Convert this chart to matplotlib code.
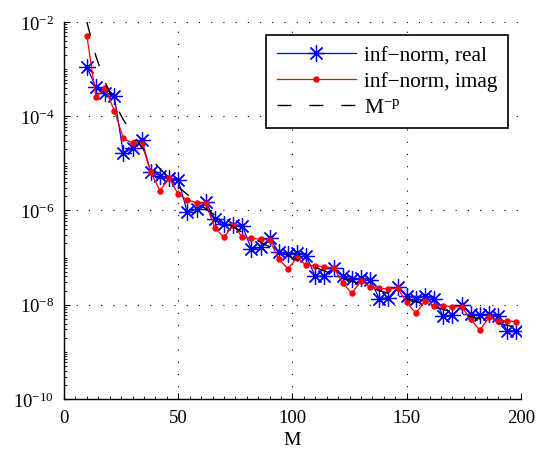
import numpy as np
import matplotlib
matplotlib.use("Agg")
import matplotlib.pyplot as plt
from matplotlib.ticker import FixedLocator, LogLocator, LogFormatterSciNotation, MultipleLocator, NullFormatter

plt.rcParams['font.family'] = ['Liberation Serif', 'DejaVu Serif']
plt.rcParams['mathtext.fontset'] = 'custom'
plt.rcParams['mathtext.rm'] = 'Liberation Serif'
plt.rcParams['mathtext.it'] = 'Liberation Serif:italic'

# ---- data ----
M = [10, 14, 18, 22, 26, 30, 34, 38, 42, 46, 50, 54, 58, 62, 66, 70, 74, 78, 82, 86,
     90, 94, 98, 102, 106, 110, 114, 118, 122, 126, 130, 134, 138, 142, 146, 150,
     154, 158, 162, 166, 170, 174, 178, 182, 186, 190, 194, 198]

real_log10 = [-2.95, -3.39, -3.51, -3.58, -4.79, -4.68, -4.50, -5.19, -5.26, -5.32,
              -5.35, -6.04, -5.97, -5.82, -6.18, -6.29, -6.30, -6.32, -6.82, -6.78,
              -6.59, -6.88, -6.93, -6.90, -6.97, -7.40, -7.39, -7.21, -7.40, -7.46,
              -7.44, -7.47, -7.87, -7.85, -7.63, -7.81, -7.87, -7.82, -7.88, -8.24,
              -8.22, -8.01, -8.20, -8.22, -8.20, -8.24, -8.55, -8.55]

imag_log10 = [-2.29, -3.59, -3.41, -3.88, -4.47, -4.57, -4.58, -5.19, -5.58, -5.31,
              -5.66, -5.77, -5.84, -5.84, -6.37, -6.57, -6.30, -6.57, -6.59, -6.61,
              -6.62, -7.03, -7.24, -7.00, -7.16, -7.17, -7.20, -7.21, -7.54, -7.76,
              -7.49, -7.63, -7.65, -7.67, -7.65, -7.95, -8.18, -7.92, -8.02, -8.02,
              -8.04, -8.04, -8.31, -8.54, -8.27, -8.34, -8.34, -8.36]

p = 5
C = 1e3

labels = ['inf\u2212norm, real', 'inf\u2212norm, imag', r'M$^{\mathrm{-p}}$']
x_ticks = [0, 50, 100, 150, 200]
y_ticks = [1e-10, 1e-8, 1e-6, 1e-4, 1e-2]

M_arr = np.array(M, dtype=float)
real_vals = 10.0 ** np.array(real_log10)
imag_vals = 10.0 ** np.array(imag_log10)
ref_vals = C * M_arr ** (-p)

fig = plt.figure(figsize=(5.36, 4.56), dpi=100)
ax = fig.add_axes([0.1194, 0.1228, 0.8526, 0.8268])

ax.semilogy(M_arr, real_vals, color='blue', lw=0.9, marker=(8, 2, 0), ms=12, mew=0.9,
            label=labels[0])
ax.semilogy(M_arr, imag_vals, color='red', lw=0.9, marker='o', ms=3.6, mec='red',
            mfc='red', label=labels[1])
ax.semilogy(M_arr, ref_vals, color='black', lw=1.0, dashes=(10, 13), label=labels[2])

ax.set_xlim(0, 200)
ax.set_ylim(1e-10, 1e-2)

ax.xaxis.set_major_locator(FixedLocator(x_ticks))
ax.xaxis.set_minor_locator(MultipleLocator(5))
ax.yaxis.set_major_locator(FixedLocator(y_ticks))
ax.yaxis.set_major_formatter(LogFormatterSciNotation())
ax.yaxis.set_minor_locator(LogLocator(base=10, subs=np.arange(1, 10), numticks=100))
ax.yaxis.set_minor_formatter(NullFormatter())

ax.tick_params(which='both', direction='in', labelsize=13.5)
ax.tick_params(which='major', length=4, width=0.8, pad=7)
ax.tick_params(which='minor', length=2, width=0.6)

for s in ['top', 'right']:
    ax.spines[s].set_visible(False)
for s in ['left', 'bottom']:
    ax.spines[s].set_linewidth(1.0)

ax.grid(True, which='major', color='black', lw=0.8, linestyle=(0, (1, 10)))

ax.set_xlabel('M', fontsize=14, labelpad=4)

leg = ax.legend(loc='upper right', bbox_to_anchor=(0.9716, 0.9655), borderaxespad=0,
                fontsize=15.3, handlelength=3.7, frameon=True, fancybox=False,
                edgecolor='black', framealpha=1, borderpad=0.5, labelspacing=0.28,
                handletextpad=0.4)
leg.get_frame().set_linewidth(1.2)

fig.savefig('out.png', dpi=100)
